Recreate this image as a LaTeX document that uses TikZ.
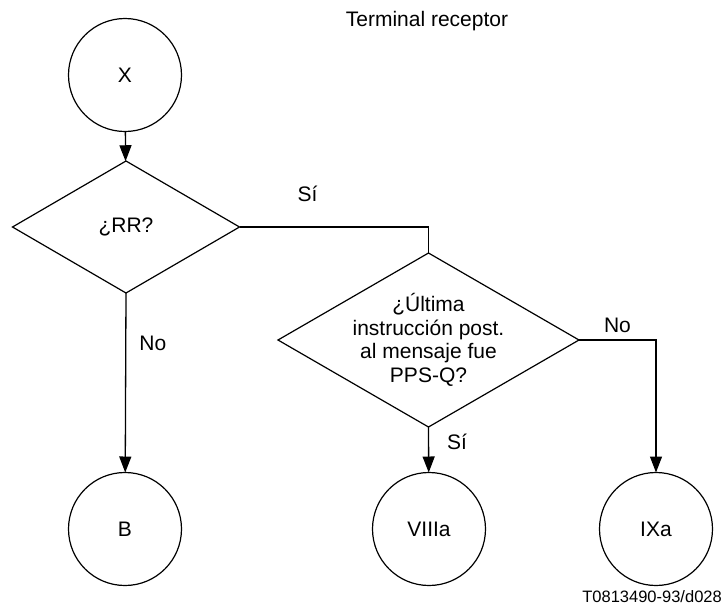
\documentclass[tikz,border=0pt]{standalone}
\usepackage{fontspec}
\setmainfont{Liberation Sans}
\usetikzlibrary{shapes.geometric,arrows.meta}

\begin{document}
\begin{tikzpicture}[x=1pt,y=-1pt,
    conn/.style={circle,draw,line width=1.2pt,minimum size=113pt,inner sep=0pt,outer sep=0pt,font=\fontsize{21}{23.5}\selectfont},
    ask/.style={diamond,draw,line width=1.2pt,inner sep=0pt,outer sep=0pt},
    lbl/.style={inner sep=0pt,font=\fontsize{21}{23.5}\selectfont},
    flow/.style={line width=1.3pt,-{Triangle[length=16pt,width=12pt]}}]
    \useasboundingbox (0,0) rectangle (724,614);
    \node[lbl] (title) at (427,21) {Terminal receptor};
    % nodes
    \node[conn] (x) at (125,75) {X};
    \node[ask,minimum width=227pt,minimum height=132pt,label={[lbl]center:¿RR?}] (rr) at (126,227) {};
    \node[ask,minimum width=301pt,minimum height=174pt,
        label={[lbl,align=center]center:{¿Última\\instrucción post.\\al mensaje fue\\PPS-Q?}}] (pps) at (428.5,340) {};
    \node[conn] (b) at (125,529) {B};
    \node[conn] (viiia) at (429,529) {VIIIa};
    \node[conn] (ixa) at (656,529) {IXa};
    % connectors
    \draw[flow] (x) -- (rr);
    \draw[line width=1.3pt] (rr.east) -| node[lbl,pos=0.18,above=25pt]{Sí} (pps.north);
    \draw[flow] (rr.south) -- node[lbl,pos=0.28,right=13pt]{No} (b);
    \draw[flow] (pps.south) -- node[lbl,pos=0.33,right=18pt]{Sí} (viiia);
    \draw[flow] (pps.east) -| node[lbl,pos=0.25,above=7pt]{No} (ixa);
    \node[inner sep=0pt,anchor=east,font=\fontsize{16.5}{19}\selectfont] (ref) at (722,597) {T0813490-93/d028};
\end{tikzpicture}
\end{document}
